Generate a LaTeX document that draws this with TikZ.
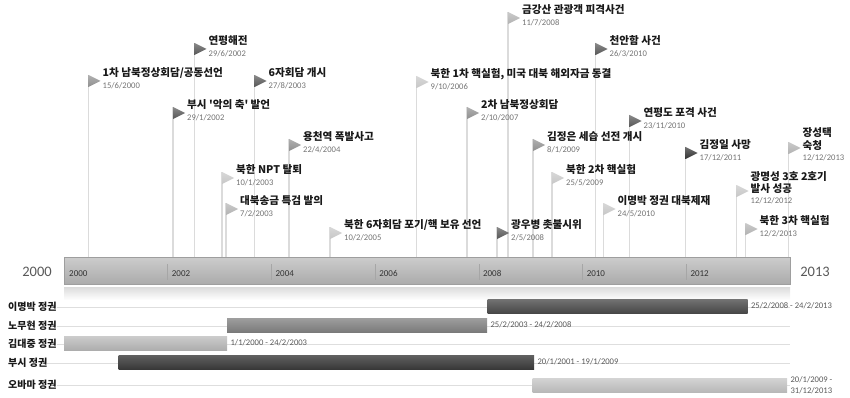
\documentclass[tikz,border=0pt]{standalone}
\usepackage{fontspec}
\setmainfont{Carlito}
\newfontfamily\kr{Noto Sans CJK KR}
\pgfdeclarelayer{bg}
\pgfsetlayers{bg,main}
\definecolor{flagL}{gray}{0.78}
\definecolor{flagLL}{gray}{0.70}
\definecolor{flagM}{gray}{0.56}
\definecolor{flagD}{gray}{0.34}
\definecolor{flagK}{gray}{0.20}
\definecolor{poleC}{gray}{0.86}
\newcommand\evt[6]{%
  \coordinate (#1) at (#2,#3);
  \begin{pgfonlayer}{bg}\draw[pole] (#1) -- (#1 |- axis.north);\end{pgfonlayer}
  \shade[top color=#4!70!white, bottom color=#4] (#1) -- ++(12,6) -- ++(-12,6) -- cycle;
  \node[ttl] (#1-t) at ([shift={(14,1.8)}]#1) {#5};
  \node[dt] (#1-d) at ([shift={(14,13.8)}]#1) {#6};
}
\newcommand\evttwo[7]{%
  \coordinate (#1) at (#2,#3);
  \begin{pgfonlayer}{bg}\draw[pole] (#1) -- (#1 |- axis.north);\end{pgfonlayer}
  \shade[top color=#4!70!white, bottom color=#4] (#1) -- ++(12,6) -- ++(-12,6) -- cycle;
  \node[ttl] (#1-t) at ([shift={(14,-5)}]#1) {#5};
  \node[ttl] (#1-u) at ([shift={(14,7.2)}]#1) {#6};
  \node[dt] (#1-d) at ([shift={(14,18.8)}]#1) {#7};
}
\begin{document}
\begin{tikzpicture}[x=1pt,y=-1pt,
  pole/.style={draw=poleC, line width=1.4pt},
  ttl/.style={font=\kr\bfseries\fontsize{10.6}{12}\selectfont, text=black!90, inner sep=0pt, anchor=base west},
  dt/.style={font=\fontsize{8.6}{10}\selectfont, text=black!55, inner sep=0pt, anchor=base west},
  yr/.style={font=\fontsize{9}{10}\selectfont, text=black!80, inner sep=0pt, anchor=base west},
  big/.style={font=\fontsize{14.5}{16}\selectfont, text=black!65, inner sep=0pt},
  rowlab/.style={font=\kr\bfseries\fontsize{10}{11}\selectfont, text=black!90, inner sep=0pt, anchor=west},
  rowline/.style={draw=black!13, line width=0.6pt},
  gbar/.style={minimum height=14pt, inner sep=0pt, anchor=west, draw=none},
  blab/.style={font=\fontsize{8.6}{10.5}\selectfont, text=black!65, inner sep=0pt, anchor=west, align=left}
]
\useasboundingbox (0,0) rectangle (850,398);
% main axis bar
\node[minimum width=726pt, minimum height=27pt, inner sep=0pt, anchor=north west,
      top color=black!20, bottom color=black!33, draw=black!38, line width=0.4pt] (axis) at (64,257) {};
\shade[top color=black!14, bottom color=white] (64,287) rectangle (790,300);
\node[big] (y0) at (37,272) {2000};
\node[big] (y1) at (815,272) {2013};
\node[yr] (t0) at (69,276) {2000};
\foreach \k/\lab in {2/2002,4/2004,6/2006,8/2008,10/2010,12/2012}{
  \draw[black!35, line width=0.5pt] (64+51.86*\k,264) -- (64+51.86*\k,280);
  \node[yr] (t\k) at (64+51.86*\k+4,276) {\lab};
}
% events
\evt{e1}{88.5}{75}{flagM}{1차 남북정상회담/공동선언}{15/6/2000}
\evt{e2}{173}{107}{flagD}{부시 '악의 축' 발언}{29/1/2002}
\evt{e3}{194.5}{43}{flagD}{연평해전}{29/6/2002}
\evt{e4}{222}{172}{flagL}{북한 NPT 탈퇴}{10/1/2003}
\evt{e5}{226}{203}{flagLL}{대북송금 특검 발의}{7/2/2003}
\evt{e6}{254.5}{75}{flagD}{6자회담 개시}{27/8/2003}
\evt{e7}{289}{139}{flagM}{용천역 폭발사고}{22/4/2004}
\evt{e8}{330}{227}{flagL}{북한 6자회담 포기/핵 보유 선언}{10/2/2005}
\evt{e9}{416.5}{76}{flagL}{북한 1차 핵실험, 미국 대북 해외자금 동결}{9/10/2006}
\evt{e10}{467}{107}{flagM}{2차 남북정상회담}{2/10/2007}
\evt{e11}{497}{227}{flagD}{광우병 촛불시위}{2/5/2008}
\evt{e12}{508}{12}{flagLL}{금강산 관광객 피격사건}{11/7/2008}
\evt{e13}{533}{139}{flagM}{김정은 세습 선전 개시}{8/1/2009}
\evt{e14}{552}{172}{flagL}{북한 2차 핵실험}{25/5/2009}
\evt{e15}{595.5}{43}{flagD}{천안함 사건}{26/3/2010}
\evt{e16}{603.5}{203}{flagL}{이명박 정권 대북제재}{24/5/2010}
\evt{e17}{629.5}{115}{flagD}{연평도 포격 사건}{23/11/2010}
\evt{e18}{685.5}{147}{flagK}{김정일 사망}{17/12/2011}
\evttwo{e19}{736.5}{185}{flagL}{광명성 3호 2호기}{발사 성공}{12/12/2012}
\evt{e20}{745.5}{223}{flagLL}{북한 3차 핵실험}{12/2/2013}
\evttwo{e21}{788.5}{142}{flagLL}{장성택}{숙청}{12/12/2013}
% gantt rows
\node[rowlab] (r1) at (8,307) {이명박 정권};
\node[rowlab] (r2) at (8,326) {노무현 정권};
\node[rowlab] (r3) at (8,344) {김대중 정권};
\node[rowlab] (r4) at (8,363) {부시 정권};
\node[rowlab] (r5) at (8,385) {오바마 정권};
\coordinate (re) at (790,0);
\foreach \r in {r1,r2,r3,r4,r5}{ \draw[rowline] (\r.east) -- (\r.east -| re); }
\node[gbar, minimum width=260pt, top color=black!55, bottom color=black!72] (b1) at (487.5,306) {};
\node[gbar, minimum width=260pt, top color=black!38, bottom color=black!52] (b2) at (227,325) {};
\node[gbar, minimum width=163pt, top color=black!20, bottom color=black!32] (b3) at (64,343) {};
\node[gbar, minimum width=415.5pt, top color=black!62, bottom color=black!78] (b4) at (118.5,362) {};
\node[gbar, minimum width=254.5pt, top color=black!17, bottom color=black!28] (b5) at (532.5,385) {};
\node[blab] (l1) at ([xshift=3pt]b1.east) {25/2/2008 - 24/2/2013};
\node[blab] (l2) at ([xshift=3pt]b2.east) {25/2/2003 - 24/2/2008};
\node[blab] (l3) at ([xshift=3pt]b3.east) {1/1/2000 - 24/2/2003};
\node[blab] (l4) at ([xshift=3pt]b4.east) {20/1/2001 - 19/1/2009};
\node[blab] (l5) at ([xshift=3pt]b5.east) {20/1/2009 -\\31/12/2013};
\end{tikzpicture}
\end{document}
